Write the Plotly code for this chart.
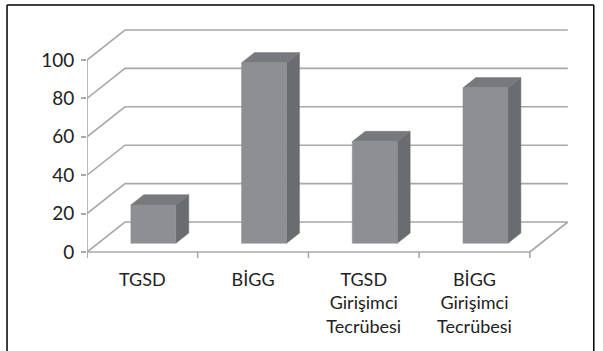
import plotly.graph_objects as go

# Data
categories = ["TGSD", "BİGG", "TGSD<br>Girişimci<br>Tecrübesi", "BİGG<br>Girişimci<br>Tecrübesi"]
values = [20, 94, 53, 81]
y_ticks = [0, 20, 40, 60, 80, 100]

# Figure geometry (pixels)
W, H = 603, 351
PX_PER_CAT = 110.75          # front x-axis: one category slot
PX_PER_UNIT = 1.92           # value axis scale
AXIS_X_PX = 87               # front value axis position
ZERO_Y_PX = 252              # value 0 on the front plane
DEPTH_DX_PX, DEPTH_DY_PX = 38, 30   # oblique depth of the back wall

ddx = DEPTH_DX_PX / PX_PER_CAT
ddy = DEPTH_DY_PX / PX_PER_UNIT
n = len(categories)
x0 = -0.5
x1 = n - 0.5

bar_w = 45 / PX_PER_CAT
bar_front = 0.29             # depth fraction of bar front face
bar_depth = 0.34             # depth fraction occupied by a bar

plot_top_px, plot_bot_px = 22, 258
y_hi = (ZERO_Y_PX - plot_top_px) / PX_PER_UNIT
y_lo = (ZERO_Y_PX - plot_bot_px) / PX_PER_UNIT
x_hi = x1 + ddx + 0.02
plot_right_px = AXIS_X_PX + (x_hi - x0) * PX_PER_CAT

GRID = "#a8a8a8"
FRONT = "#8e8f92"
SIDE = "#6b6c6f"
TOP = "#78797c"

fig = go.Figure()


def line(xs, ys, color=GRID, width=1.6):
    fig.add_trace(go.Scatter(x=xs, y=ys, mode="lines", hoverinfo="skip",
                             line=dict(color=color, width=width), showlegend=False))


def poly(xs, ys, color):
    fig.add_trace(go.Scatter(x=xs + [xs[0]], y=ys + [ys[0]], mode="lines", fill="toself",
                             fillcolor=color, hoverinfo="skip",
                             line=dict(color=color, width=0.5), showlegend=False))


# Back wall grid lines folded over the left wall
for v in y_ticks:
    line([x0, x0 + ddx, x1 + ddx], [v, v + ddy, v + ddy])

# Floor right edge
line([x1, x1 + ddx], [0, ddy])
# Front value axis and category axis
line([x0, x0], [y_lo, y_ticks[-1]])
line([x0, x1], [0, 0])
for k in range(n + 1):
    line([x0 + k, x0 + k], [0, y_lo])

# 3D bars
for i, v in enumerate(values):
    bx = i - bar_w / 2 + bar_front * ddx
    base = bar_front * ddy
    top = base + v
    l, r = bx, bx + bar_w
    dx, dy = bar_depth * ddx, bar_depth * ddy
    poly([r, r + dx, r + dx, r], [base, base + dy, top + dy, top], SIDE)
    poly([l, r, r + dx, l + dx], [top, top, top + dy, top + dy], TOP)
    poly([l, r, r, l], [base, base, top, top], FRONT)

fig.update_layout(
    width=W, height=H,
    margin=dict(l=AXIS_X_PX, r=W - plot_right_px, t=plot_top_px, b=H - plot_bot_px),
    paper_bgcolor="white", plot_bgcolor="white",
    font=dict(family="Lato", size=18, color="#222222"),
    xaxis=dict(range=[x0, x_hi], showgrid=False, zeroline=False, showline=False,
               tickmode="array", tickvals=list(range(n)), ticktext=categories,
               ticks="", ticklabelstandoff=9, fixedrange=True,
               tickfont=dict(size=18)),
    yaxis=dict(range=[y_lo, y_hi], showgrid=False, zeroline=False, showline=False,
               tickmode="array", tickvals=y_ticks, ticks="outside", ticklen=5,
               tickwidth=1.5, tickcolor=GRID, fixedrange=True,
               tickfont=dict(size=19), ticklabelstandoff=3),
    showlegend=False,
)

# Outer frame
pw = plot_right_px - AXIS_X_PX
ph = plot_bot_px - plot_top_px


def paper_x(px):
    return (px - AXIS_X_PX) / pw


def paper_y(py):
    return (plot_bot_px - py) / ph


frame = dict(color="black", width=1.5)
fig.add_shape(type="line", xref="paper", yref="paper",
              x0=paper_x(7), x1=paper_x(594), y0=paper_y(5), y1=paper_y(5), line=frame)
fig.add_shape(type="line", xref="paper", yref="paper",
              x0=paper_x(7), x1=paper_x(7), y0=paper_y(5), y1=paper_y(H + 5), line=frame)
fig.add_shape(type="line", xref="paper", yref="paper",
              x0=paper_x(594), x1=paper_x(594), y0=paper_y(5), y1=paper_y(H + 5), line=frame)

fig.write_html("out.html")
